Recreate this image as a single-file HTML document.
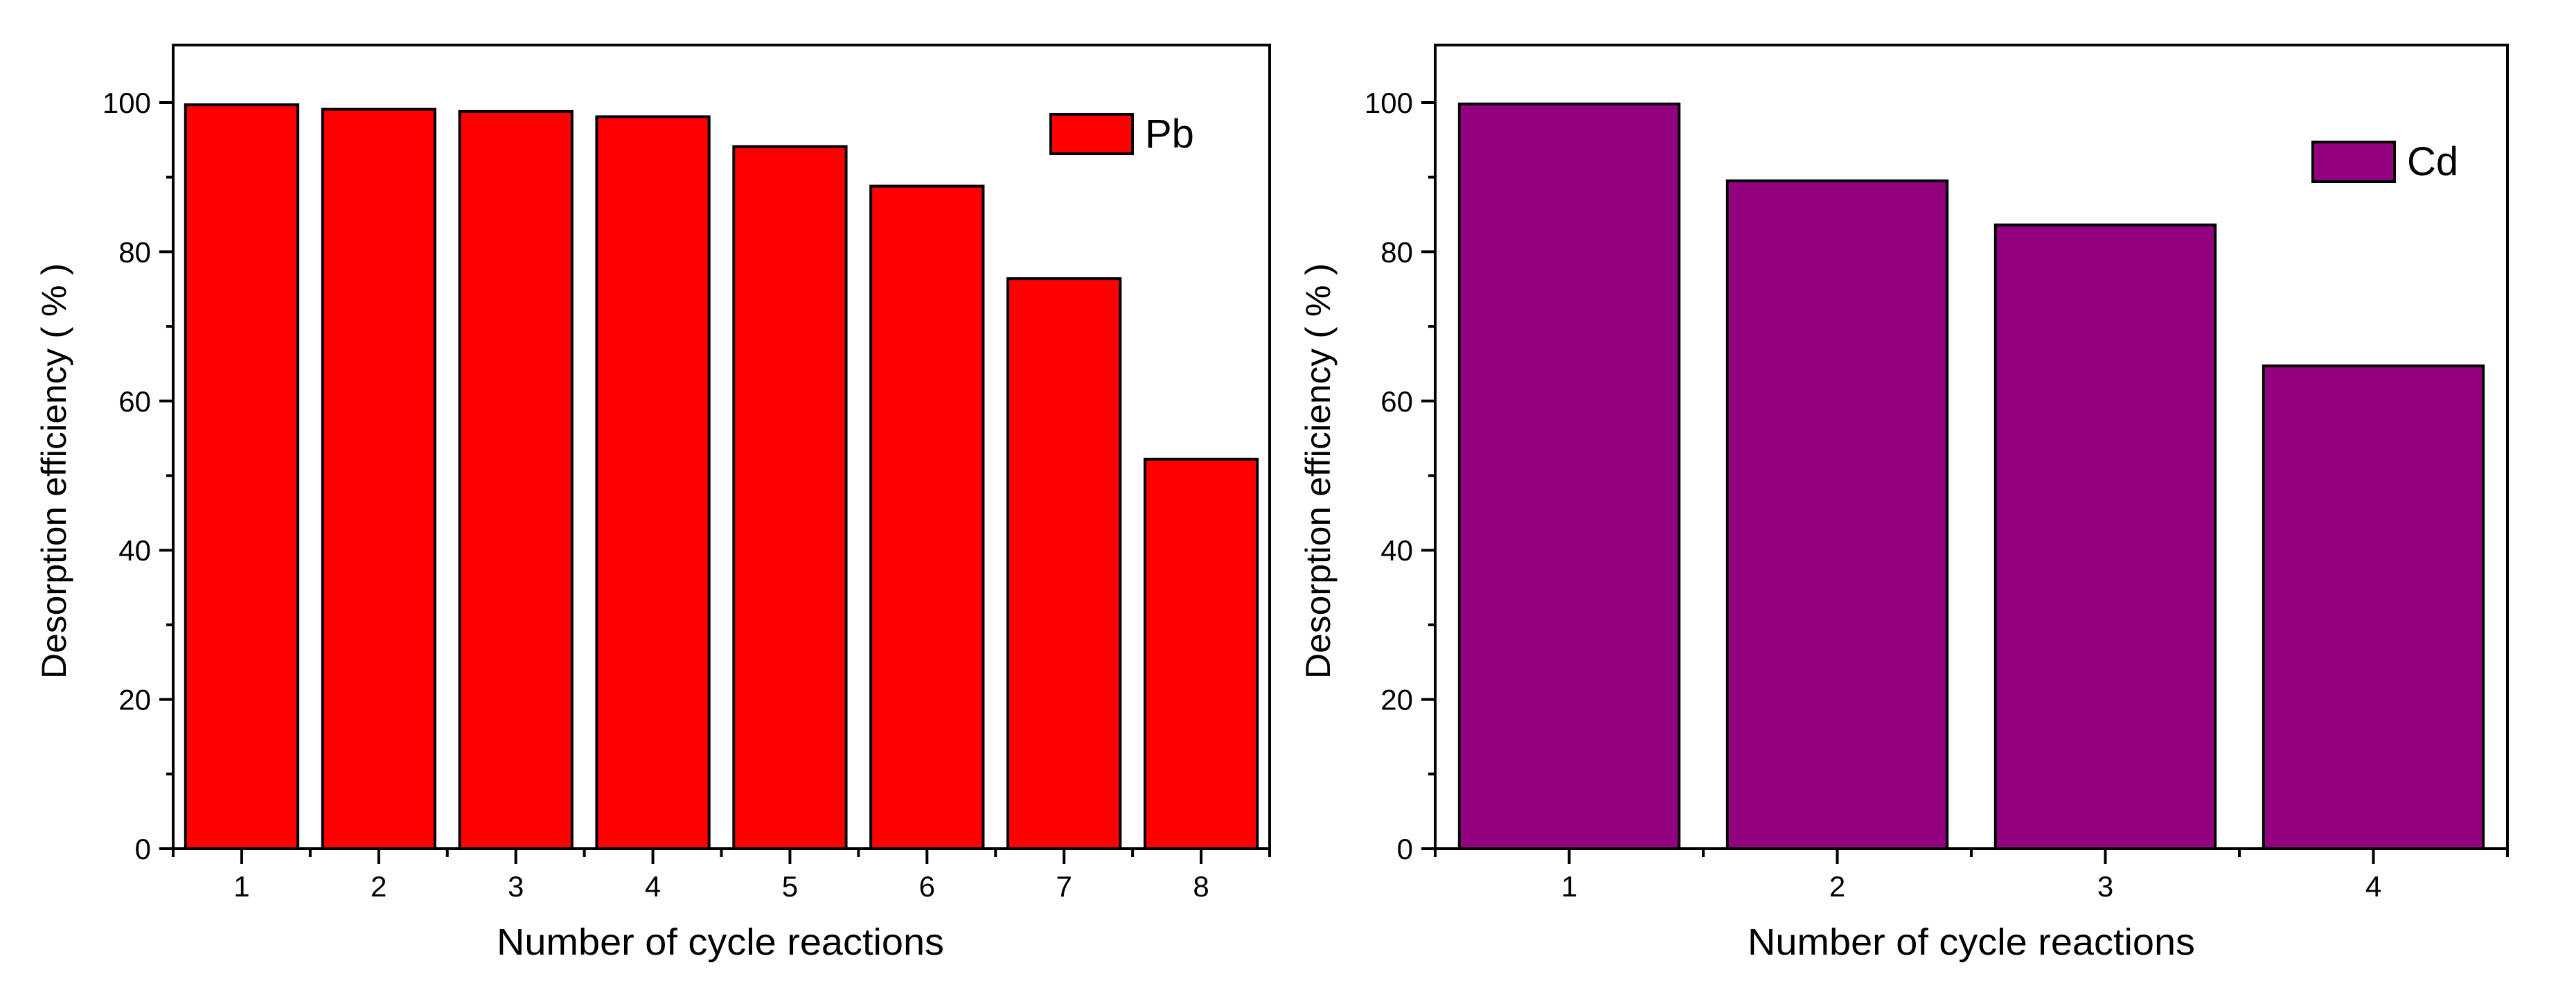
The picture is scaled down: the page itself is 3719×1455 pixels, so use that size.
<!DOCTYPE html>
<html><head><meta charset="utf-8"><style>
html,body{margin:0;padding:0;background:#fff;}
svg{display:block;font-family:"Liberation Sans",Arial,sans-serif;}
</style></head><body>
<svg id="fig" width="3719" height="1455" viewBox="0 0 3719 1455" xmlns="http://www.w3.org/2000/svg"></svg>
<script>
const pbCategories = ["1","2","3","4","5","6","7","8"];
const pbValues = [99.7, 99.1, 98.8, 98.1, 94.1, 88.8, 76.4, 52.2];
const cdCategories = ["1","2","3","4"];
const cdValues = [99.8, 89.5, 83.6, 64.7];
const yTicks = [0, 20, 40, 60, 80, 100];
const yMinorTicks = [10, 30, 50, 70, 90];

const NS = "http://www.w3.org/2000/svg";
const svg = document.getElementById('fig');
function mk(tag, attrs, parent){
  const e = document.createElementNS(NS, tag);
  for (const k in attrs) e.setAttribute(k, attrs[k]);
  (parent||svg).appendChild(e);
  return e;
}

function drawPanel(cfg){
  const g = mk('g', {});
  
  
  const {x0, x1, yTop, yZero, yMax} = cfg;
  const ys = v => yZero - v * (yZero - 148) / 100;
  const n = cfg.cats.length;
  const step = (x1 - x0) / n;
  const xc = i => x0 + step * (i + 0.5);
  const bw = step * 0.82;
  // bars
  cfg.vals.forEach((v, i) => {
    const r = mk('rect', {x: xc(i) - bw/2, y: ys(v), width: bw, height: yZero - ys(v), fill: cfg.color, stroke: '#000', 'stroke-width': 4}, g);
    
    
  });
  // frame
  const f = mk('rect', {x: x0, y: yTop, width: x1 - x0, height: yZero - yTop, fill: 'none', stroke: '#000', 'stroke-width': 4}, g);
  
  
  // y ticks
  yTicks.forEach(t => {
    mk('line', {x1: x0 - 20, x2: x0, y1: ys(t), y2: ys(t), stroke: '#000', 'stroke-width': 4}, g);
    const tx = mk('text', {x: x0 - 32, y: ys(t) + 15, 'font-size': 42, 'text-anchor': 'end', fill: '#000'}, g);
    tx.textContent = t;
    
    
  });
  yMinorTicks.forEach(t => {
    mk('line', {x1: x0 - 10, x2: x0, y1: ys(t), y2: ys(t), stroke: '#000', 'stroke-width': 4}, g);
  });
  // x ticks
  for (let i = 0; i <= n; i++) {
    mk('line', {x1: x0 + step*i, x2: x0 + step*i, y1: yZero, y2: yZero + 12, stroke: '#000', 'stroke-width': 4}, g);
  }
  cfg.cats.forEach((c, i) => {
    mk('line', {x1: xc(i), x2: xc(i), y1: yZero, y2: yZero + 22, stroke: '#000', 'stroke-width': 4}, g);
    const tx = mk('text', {x: xc(i), y: 1294, 'font-size': 42, 'text-anchor': 'middle', fill: '#000'}, g);
    tx.textContent = c;
    
    
  });
  // axis titles
  const xt = mk('text', {x: cfg.xTitleX, y: 1378, 'font-size': 54, 'text-anchor': 'middle', textLength: 646, lengthAdjust: 'spacingAndGlyphs', fill: '#000'}, g);
  xt.textContent = 'Number of cycle reactions';
  
  
  const yt = mk('text', {x: 0, y: 0, 'font-size': 50, 'text-anchor': 'middle', textLength: 600, lengthAdjust: 'spacingAndGlyphs', fill: '#000', transform: `translate(${cfg.yTitleX},680) rotate(-90)`}, g);
  yt.textContent = 'Desorption efficiency ( % )';
  
  
  // legend
  const lg = mk('g', {}, g);
  
  
  const lr = mk('rect', {x: cfg.legX, y: cfg.legY, width: 118, height: 57, fill: cfg.color, stroke: '#000', 'stroke-width': 4}, lg);
  
  
  const lt = mk('text', {x: cfg.legX + 136, y: cfg.legY + 48, 'font-size': 58, fill: '#000'}, lg);
  lt.textContent = cfg.label;
  
  
}

drawPanel({name: 'pb-panel', x0: 250, x1: 1833, yTop: 65, yZero: 1225, cats: pbCategories, vals: pbValues, color: '#ff0000', xTitleX: 1040, yTitleX: 95, legX: 1517, legY: 165, label: 'Pb'});
drawPanel({name: 'cd-panel', x0: 2072, x1: 3620, yTop: 65, yZero: 1225, cats: cdCategories, vals: cdValues, color: '#930080', xTitleX: 2846, yTitleX: 1920, legX: 3339, legY: 205, label: 'Cd'});
</script>
</body></html>
